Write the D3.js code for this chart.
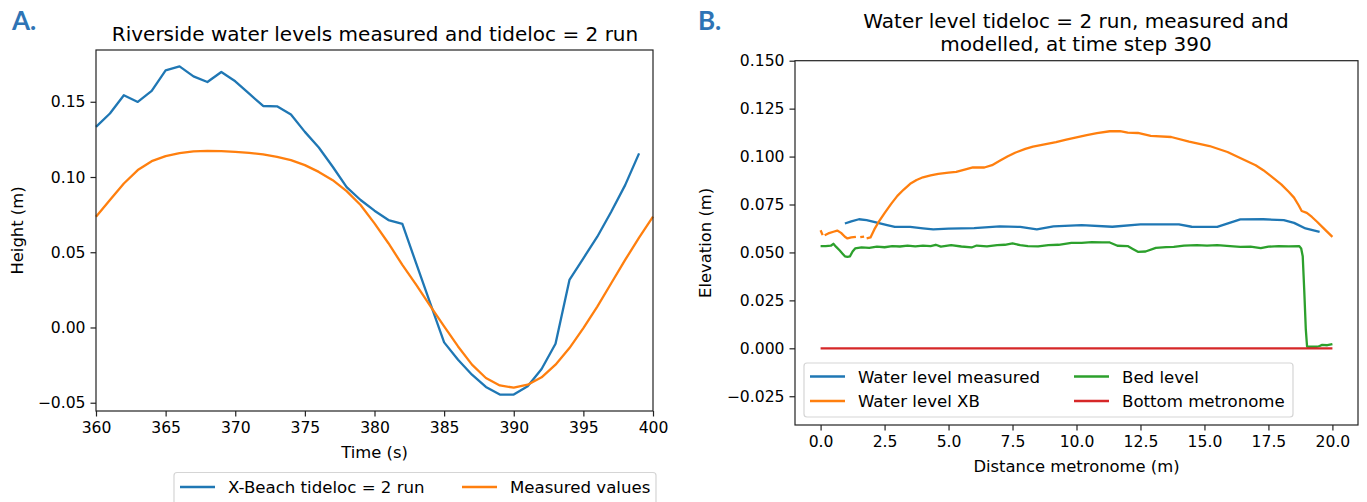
<!DOCTYPE html>
<html lang="en">
<head>
<meta charset="utf-8">
<script src="https://d3js.org/d3.v7.min.js"></script>
<style>
  body { margin: 0; background: #fff; }
  text { font-family: "DejaVu Sans", sans-serif; fill: #000; }
  .tag { font-family: Lato, "Open Sans", sans-serif; font-weight: 700; fill: #2e74b5; }
</style>
</head>
<body>
<script>
// panel A: riverside water level against time
var timeA = [360,361,362,363,364,365,366,367,368,369,370,371,372,373,374,375,376,377,378,379,
             380,381,382,383,384,385,386,387,388,389,390,391,392,393,394,395,396,397,398,399,400];
var xbeachA = [0.1333,0.1422,0.1543,0.1499,0.1572,0.1709,0.1735,0.1669,0.1631,0.1698,
               0.1636,0.1554,0.1472,0.1470,0.1415,0.1300,0.1196,0.1068,0.0933,0.0847,
               0.0776,0.0714,0.0688,0.0424,0.0162,-0.0099,-0.0214,-0.0314,-0.0395,-0.0446,
               -0.0446,-0.0391,-0.0276,-0.0108,0.0316,0.0460,0.0603,0.0769,0.0946,0.1157];
var measuredA = [0.0736,0.0847,0.0957,0.1046,0.1105,0.1139,0.1158,0.1170,0.1174,0.1172,
                 0.1167,0.1160,0.1150,0.1134,0.1112,0.1079,0.1034,0.0979,0.0906,0.0814,
                 0.0692,0.0560,0.0416,0.0283,0.0144,0.0007,-0.0126,-0.0247,-0.0336,-0.0385,
                 -0.0400,-0.0380,-0.0331,-0.0247,-0.0137,-0.0004,0.0139,0.0294,0.0449,0.0597,0.0736];

// panel B: profile along the metronome at step 390
var measDist = [0.95,1.2,1.5,1.8,2.2,2.6,2.9,3.5,4.0,4.4,5.0,6.0,7.0,7.8,8.45,9.1,10.2,11.4,12.5,
                14.0,14.5,15.5,16.4,17.3,18.1,18.5,18.95,19.5];
var measLevel = [0.0651,0.0662,0.0673,0.0668,0.0655,0.0643,0.0633,0.0633,0.0626,0.0620,0.0624,
                 0.0627,0.0636,0.0633,0.0620,0.0636,0.0642,0.0634,0.0646,0.0646,0.0634,0.0633,
                 0.0672,0.0673,0.0668,0.0654,0.0625,0.0607];
var xbDist = [0.0,0.08,0.12,0.16,0.3,0.5,0.65,0.8,0.95,1.05,1.2,1.38,1.45,1.55,1.7,1.75,1.8,1.95,
              2.1,2.25,2.5,2.75,3.0,3.25,3.5,3.75,4.0,4.3,4.6,5.0,5.3,5.7,5.95,6.4,6.7,7.0,7.3,
              7.6,8.0,8.3,8.7,9.2,9.6,10.0,10.4,10.8,11.3,11.7,12.0,12.4,12.9,13.7,14.4,15.2,
              15.9,16.5,17.0,17.3,17.6,18.0,18.3,18.5,18.68,18.8,19.0,19.2,19.4,19.7,20.0];
var xbLevel = [0.0616,0.0590,null,0.0590,0.0599,0.0608,0.0614,0.0602,0.0582,0.0573,0.0578,0.0581,
               null,0.0580,0.0583,null,0.0573,0.0578,0.0620,0.0655,0.0705,0.0752,0.0795,0.0828,
               0.0858,0.0878,0.0892,0.0902,0.0910,0.0916,0.0920,0.0935,0.0944,0.0943,0.0955,
               0.0978,0.1000,0.1020,0.1040,0.1052,0.1062,0.1075,0.1088,0.1100,0.1112,0.1122,
               0.1132,0.1133,0.1125,0.1123,0.1108,0.1102,0.1078,0.1055,0.1024,0.0986,0.0955,
               0.0929,0.0898,0.0855,0.0815,0.0786,0.0746,0.0716,0.0706,0.0685,0.0660,0.0620,0.0581];
var bedDist = [0.0,0.2,0.4,0.5,0.6,0.75,0.85,0.95,1.05,1.15,1.25,1.35,1.6,1.9,2.2,2.5,2.8,3.1,3.4,
               3.7,4.0,4.3,4.5,4.7,5.1,5.5,5.9,6.1,6.5,6.9,7.2,7.5,7.8,8.1,8.5,8.9,9.3,9.8,10.2,
               10.6,11.0,11.3,11.6,12.0,12.2,12.4,12.7,13.1,13.5,13.8,14.2,14.7,15.1,15.5,16.0,
               16.4,16.8,17.2,17.5,17.9,18.3,18.7,18.78,18.84,18.9,18.96,19.01,19.4,19.5,19.6,
               19.8,20.0];
var bedLevel = [0.0533,0.0533,0.0535,0.0545,0.0530,0.0510,0.0495,0.0480,0.0477,0.0480,0.0505,
                0.0521,0.0526,0.0524,0.0530,0.0527,0.0533,0.0531,0.0535,0.0532,0.0535,0.0533,
                0.0540,0.0530,0.0538,0.0531,0.0526,0.0536,0.0532,0.0538,0.0540,0.0547,0.0538,
                0.0533,0.0532,0.0538,0.0540,0.0550,0.0550,0.0554,0.0553,0.0552,0.0535,0.0533,
                0.0518,0.0503,0.0505,0.0524,0.0528,0.0529,0.0535,0.0538,0.0536,0.0538,0.0533,
                0.0529,0.0530,0.0522,0.0530,0.0533,0.0532,0.0533,0.0521,0.0480,0.0300,0.0100,
                0.0008,0.0008,0.0012,0.0018,0.0016,0.0022];
var bottomDist = [0, 20];
var bottomLevel = [0, 0];

var blue = "#1f77b4", orange = "#ff7f0e", green = "#2ca02c", red = "#d62728";
var labelSize = "16.4px", titleSize = "20px", legendSize = "16.6px";

var svg = d3.select("body").append("svg")
    .attr("width", 1367)
    .attr("height", 502);

function zip(xs, ys) {
  return xs.map(function (x, i) { return {x: x, y: ys[i]}; });
}

// draws axes and labels for one panel, returns the scales
function panel(box, xDomain, yDomain, xTicks, yTicks, xFmt, yFmt, xLabel, yLabel, yLabelX) {
  var x = d3.scaleLinear().domain(xDomain).range([box.left, box.right]);
  var y = d3.scaleLinear().domain(yDomain).range([box.bottom, box.top]);

  var xa = svg.append("g")
      .attr("transform", "translate(0," + box.bottom + ")")
      .call(d3.axisBottom(x).tickValues(xTicks).tickFormat(d3.format(xFmt)).tickSizeOuter(0).tickSize(5.5).tickPadding(5));
  var ya = svg.append("g")
      .attr("transform", "translate(" + box.left + ",0)")
      .call(d3.axisLeft(y).tickValues(yTicks).tickFormat(d3.format(yFmt)).tickSizeOuter(0).tickSize(5.5).tickPadding(5));
  [xa, ya].forEach(function (a) {
    a.select(".domain").remove();
    a.selectAll("line").attr("stroke", "#222").attr("stroke-width", 1.2);
    a.selectAll("text").style("font-size", "15.6px").style("font-family", "DejaVu Sans");
  });

  svg.append("text")
      .attr("x", (box.left + box.right) / 2)
      .attr("y", box.bottom + 47)
      .attr("text-anchor", "middle")
      .style("font-size", labelSize)
      .text(xLabel);
  svg.append("text")
      .attr("transform", "translate(" + yLabelX + "," + (box.top + box.bottom) / 2 + ") rotate(-90)")
      .attr("text-anchor", "middle")
      .style("font-size", labelSize)
      .text(yLabel);

  return {x: x, y: y, box: box};
}

function frame(p) {
  var b = p.box;
  svg.append("rect")
      .attr("x", b.left).attr("y", b.top)
      .attr("width", b.right - b.left).attr("height", b.bottom - b.top)
      .attr("fill", "none").attr("stroke", "#222").attr("stroke-width", 1.2);
}

function drawLine(p, pts, colour) {
  var line = d3.line()
      .defined(function (d) { return d.y !== null; })
      .x(function (d) { return p.x(d.x); })
      .y(function (d) { return p.y(d.y); });
  svg.append("path")
      .datum(pts)
      .attr("d", line)
      .attr("fill", "none")
      .attr("stroke", colour)
      .attr("stroke-width", 2.3)
      .attr("stroke-linejoin", "round")
      .attr("stroke-linecap", "butt");
}

function legendRow(x, y, colour, label) {
  svg.append("line")
      .attr("x1", x).attr("x2", x + 35)
      .attr("y1", y).attr("y2", y)
      .attr("stroke", colour).attr("stroke-width", 2.3);
  svg.append("text")
      .attr("x", x + 48).attr("y", y + 6)
      .style("font-size", legendSize)
      .text(label);
}

// ---- panel A ----
var pA = panel({left: 96, right: 653, top: 50, bottom: 411},
    [360, 400], [-0.0555, 0.1844],
    [360, 365, 370, 375, 380, 385, 390, 395, 400], [-0.05, 0, 0.05, 0.10, 0.15],
    "d", ".2f", "Time (s)", "Height (m)", 23);
drawLine(pA, zip(timeA.slice(0, xbeachA.length), xbeachA), blue);
drawLine(pA, zip(timeA, measuredA), orange);
frame(pA);

svg.append("text")
    .attr("x", 375).attr("y", 41)
    .attr("text-anchor", "middle")
    .style("font-size", titleSize)
    .text("Riverside water levels measured and tideloc = 2 run");

svg.append("rect")
    .attr("x", 174).attr("y", 472.5).attr("width", 482).attr("height", 34).attr("rx", 3)
    .attr("fill", "#fff").attr("stroke", "#d5d5d5").attr("stroke-width", 1.2);
legendRow(180, 487, blue, "X-Beach tideloc = 2 run");
legendRow(462, 487, orange, "Measured values");

// ---- panel B ----
var pB = panel({left: 795, right: 1358, top: 60.7, bottom: 425},
    [-1, 21], [-0.04, 0.15],
    [0, 2.5, 5, 7.5, 10, 12.5, 15, 17.5, 20], [-0.025, 0, 0.025, 0.05, 0.075, 0.1, 0.125, 0.15],
    ".1f", ".3f", "Distance metronome (m)", "Elevation (m)", 711);
drawLine(pB, zip(measDist, measLevel), blue);
drawLine(pB, zip(xbDist, xbLevel), orange);
drawLine(pB, zip(bedDist, bedLevel), green);
drawLine(pB, zip(bottomDist, bottomLevel), red);
frame(pB);

svg.append("text")
    .attr("x", 1076).attr("y", 28)
    .attr("text-anchor", "middle")
    .style("font-size", titleSize)
    .text("Water level tideloc = 2 run, measured and");
svg.append("text")
    .attr("x", 1076).attr("y", 51)
    .attr("text-anchor", "middle")
    .style("font-size", titleSize)
    .text("modelled, at time step 390");

svg.append("rect")
    .attr("x", 804).attr("y", 363).attr("width", 489).attr("height", 54).attr("rx", 3)
    .attr("fill", "#fff").attr("fill-opacity", 0.8).attr("stroke", "#d5d5d5").attr("stroke-width", 1.2);
legendRow(810, 376.5, blue, "Water level measured");
legendRow(810, 401, orange, "Water level XB");
legendRow(1074, 376.5, green, "Bed level");
legendRow(1074, 401, red, "Bottom metronome");

// panel tags
svg.append("text").attr("class", "tag").attr("x", 12).attr("y", 30).style("font-size", "26px").text("A.");
svg.append("text").attr("class", "tag").attr("x", 698).attr("y", 30).style("font-size", "26px").text("B.");
</script>
</body>
</html>
